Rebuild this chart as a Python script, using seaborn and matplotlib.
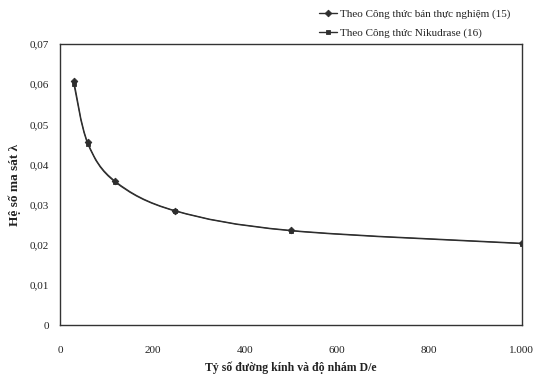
import matplotlib
matplotlib.use("Agg")
import matplotlib.pyplot as plt
import matplotlib.ticker as mticker
from matplotlib.path import Path
from matplotlib.patches import PathPatch
import seaborn as sns
import pandas as pd

# Data
ratio_De = [30, 60, 120, 250, 500, 1000]
lambda_semi_empirical = [0.0608, 0.0455, 0.0358, 0.0285, 0.0236, 0.0204]
lambda_nikuradse = [0.0600, 0.0452, 0.0356, 0.0284, 0.0235, 0.0203]
series_names = ["Theo Công thức bán thực nghiệm (15)", "Theo Công thức Nikudrase (16)"]
x_ticks = [0, 200, 400, 600, 800, 1000]
y_ticks = [0, 0.01, 0.02, 0.03, 0.04, 0.05, 0.06, 0.07]

df = pd.DataFrame({
    "x": ratio_De * 2,
    "y": lambda_semi_empirical + lambda_nikuradse,
    "series": [series_names[0]] * len(ratio_De) + [series_names[1]] * len(ratio_De),
})

sns.set_theme(style="white")
plt.rcParams["font.family"] = ["Liberation Serif", "DejaVu Serif"]

LINE = "#2e2e2e"
fig = plt.figure(figsize=(5.33, 3.83), dpi=100)
ax = fig.add_axes([0.1126, 0.151, 0.866, 0.734])

sns.lineplot(data=df, x="x", y="y", hue="series", style="series",
             palette=[LINE, LINE], markers=["D", "s"], dashes=False,
             markersize=3.4, linewidth=0, markeredgewidth=0.6,
             markeredgecolor=LINE, ax=ax, legend=True)


def smooth_path(xs, ys):
    """Excel-style smoothed line (Catmull-Rom as cubic Bezier) through the data points."""
    pts = list(zip(xs, ys))
    n = len(pts)
    verts = [pts[0]]
    codes = [Path.MOVETO]
    for i in range(n - 1):
        p0 = pts[i - 1] if i > 0 else pts[i]
        p1 = pts[i]
        p2 = pts[i + 1]
        p3 = pts[i + 2] if i + 2 < n else pts[i + 1]
        c1 = (p1[0] + (p2[0] - p0[0]) / 6, p1[1] + (p2[1] - p0[1]) / 6)
        c2 = (p2[0] - (p3[0] - p1[0]) / 6, p2[1] - (p3[1] - p1[1]) / 6)
        verts += [c1, c2, p2]
        codes += [Path.CURVE4] * 3
    return Path(verts, codes)


for ys in (lambda_semi_empirical, lambda_nikuradse):
    ax.add_patch(PathPatch(smooth_path(ratio_De, ys), facecolor="none",
                           edgecolor=LINE, linewidth=0.85, zorder=1.5))

ax.set_xlim(0, 1000)
ax.set_ylim(0, 0.07)
ax.set_xticks(x_ticks)
ax.set_yticks(y_ticks)

def xfmt(v, pos):
    return f"{int(round(v)):,}".replace(",", ".")
def yfmt(v, pos):
    if abs(v) < 1e-12:
        return "0"
    return f"{v:.2f}".replace(".", ",")
ax.xaxis.set_major_formatter(mticker.FuncFormatter(xfmt))
ax.yaxis.set_major_formatter(mticker.FuncFormatter(yfmt))
ax.tick_params(axis="both", length=0, labelsize=8, colors="#222222")
ax.tick_params(axis="x", pad=15)
ax.tick_params(axis="y", pad=8)

for s in ax.spines.values():
    s.set_color("#333333")
    s.set_linewidth(1.0)

ax.set_xlabel("Tỷ số đường kính và độ nhám D/e", fontsize=8.5, fontweight="bold", color="#222222", labelpad=5)
ax.set_ylabel("Hệ số ma sát λ", fontsize=9.5, fontweight="bold", color="#222222", labelpad=6)

leg = ax.legend(loc="lower right", bbox_to_anchor=(0.985, 1.005), frameon=False,
                fontsize=8, handlelength=1.6, handletextpad=0.3, labelspacing=0.8,
                borderaxespad=0.0)
for t in leg.get_texts():
    t.set_color("#222222")
for h in leg.legend_handles:
    h.set_linewidth(1.0)
    h.set_markeredgecolor(LINE)

fig.savefig("out.png", dpi=100, facecolor="white")
